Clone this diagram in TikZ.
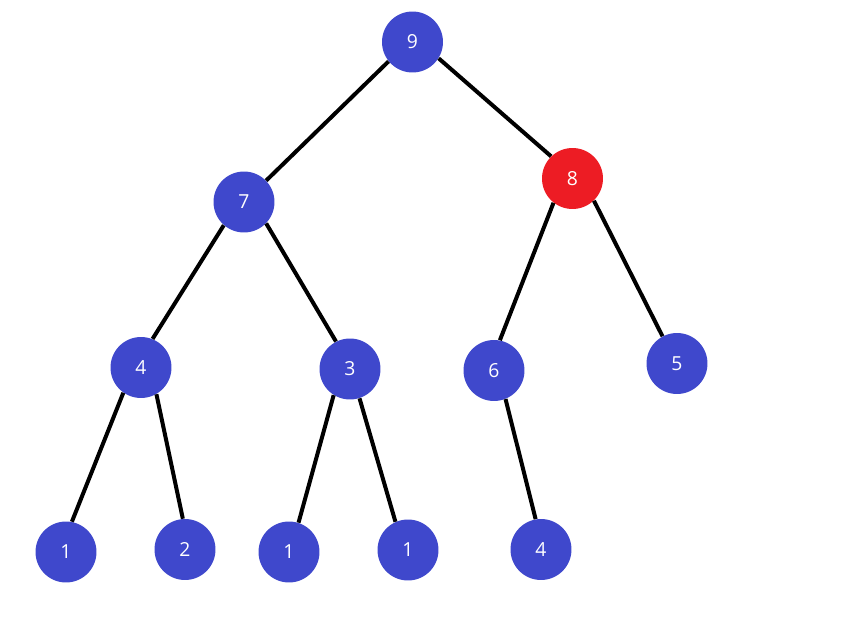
\documentclass[tikz,border=0pt]{standalone}
\usepackage{fontspec}
\setmainfont{Open Sans}
\usepackage{tikz}
\definecolor{paintblue}{HTML}{3F48CC}
\definecolor{paintred}{HTML}{ED1C24}

\begin{document}
\begin{tikzpicture}[x=0.02cm,y=-0.02cm,
			treenode/.style={circle, fill=paintblue, text=white, inner sep=0pt, minimum size=1.22cm, font=\fontsize{11}{13}\selectfont},
			branch/.style={line width=0.08cm}]
			\useasboundingbox (0,0) rectangle (853,632);

			\node (n9) [treenode] at (412.5,42) {9};

			\node (n7) [treenode] at (244,202) {7};
			\node (n8) [treenode, fill=paintred] at (572.5,178.5) {8};

			\node (n4) [treenode] at (141,367.5) {4};
			\node (n3) [treenode] at (350,369) {3};
			\node (n6) [treenode] at (494,370.5) {6};
			\node (n5) [treenode] at (677,363.5) {5};

			\node (n1a) [treenode] at (66,552) {1};
			\node (n2) [treenode] at (185,549.5) {2};
			\node (n1b) [treenode] at (289,552) {1};
			\node (n1c) [treenode] at (408,550) {1};
			\node (n4b) [treenode] at (541,549.5) {4};

			\draw [branch] (n9.219) -- (n7.44);
			\draw [branch] (n9.328) -- (n8.134);

			\draw [branch] (n7.229) -- (n4.68);
			\draw [branch] (n7.316) -- (n3.117);
			\draw [branch] (n8.232) -- (n6.79);
			\draw [branch] (n8.314) -- (n5.118);

			\draw [branch] (n4.235) -- (n1a.79);
			\draw [branch] (n4.300) -- (n2.94);
			\draw [branch] (n3.238) -- (n1b.72);
			\draw [branch] (n3.288) -- (n1c.114);
			\draw [branch] (n6.292) -- (n4b.100);
		\end{tikzpicture}
\end{document}
